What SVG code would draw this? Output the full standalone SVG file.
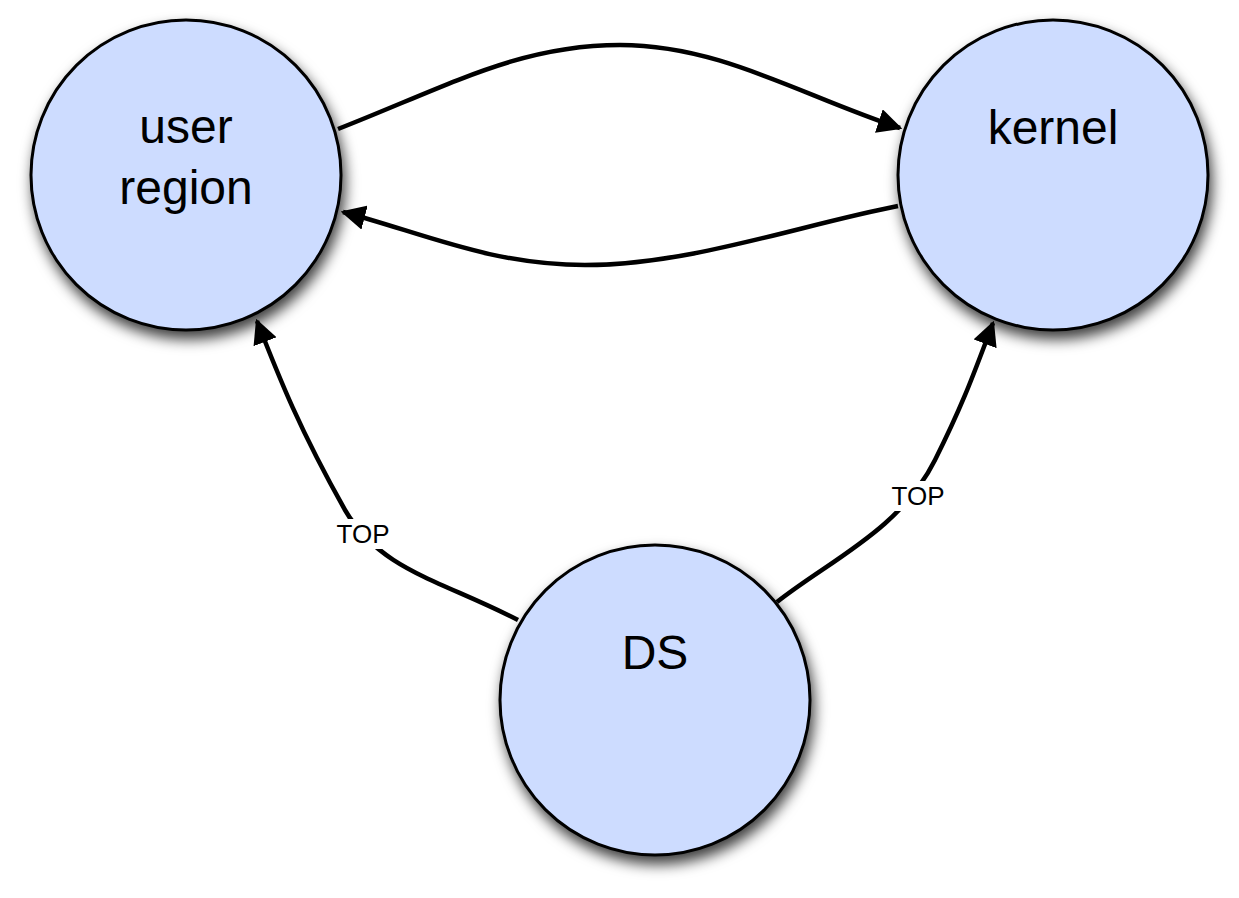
<svg xmlns="http://www.w3.org/2000/svg" width="1239" height="898" viewBox="0 0 1239 898">
<style>
.node{fill:#cddcff;stroke:#000;stroke-width:3;filter:url(#sh)}
.lbl{font-family:"Liberation Sans",Arial,sans-serif;font-size:48px;fill:#000;text-anchor:middle}
.edge{fill:none;stroke:#000;stroke-width:4.5;marker-end:url(#ah)}
.el{font-family:"Liberation Sans",Arial,sans-serif;font-size:26px;fill:#000;text-anchor:middle}
</style>
<defs>
<filter id="sh" x="-20%" y="-20%" width="150%" height="150%">
<feDropShadow dx="3" dy="8" stdDeviation="7" flood-color="#000" flood-opacity="0.75"/>
</filter>
<marker id="ah" viewBox="0 0 10 10" refX="9" refY="5" markerWidth="5.5" markerHeight="5.5" orient="auto" markerUnits="strokeWidth">
<path d="M0,0 L10,5 L0,10 Z" fill="#000"/>
</marker>
</defs>
<rect width="1239" height="898" fill="#fff"/>
<g id="user-region">
<circle class="node" cx="186" cy="175" r="155"/>
<text class="lbl" x="186" y="143">user</text>
<text class="lbl" x="186" y="204">region</text>
</g>
<g id="kernel">
<circle class="node" cx="1053" cy="175" r="155"/>
<text class="lbl" x="1053" y="144">kernel</text>
</g>
<g id="ds">
<circle class="node" cx="655" cy="700" r="155"/>
<text class="lbl" x="655" y="669">DS</text>
</g>
<g id="connectors">
<path class="edge" d="M338,129 C450,85 520,45 620,45 C720,45 800,95 900,128"/>
<path class="edge" d="M898,206 C800,225 690,265 585,265 C490,265 420,232 343,212"/>
<path class="edge" d="M518,620 C440,580 380,570 345,510 C300,430 280,380 257,321"/>
<path class="edge" d="M777,602 C830,560 900,530 935,460 C965,400 975,370 993,323"/>
<rect x="334" y="519" width="58" height="30" fill="#fff"/>
<text class="el" x="363" y="543">TOP</text>
<rect x="889" y="481" width="58" height="30" fill="#fff"/>
<text class="el" x="918" y="505">TOP</text>
</g>
</svg>
